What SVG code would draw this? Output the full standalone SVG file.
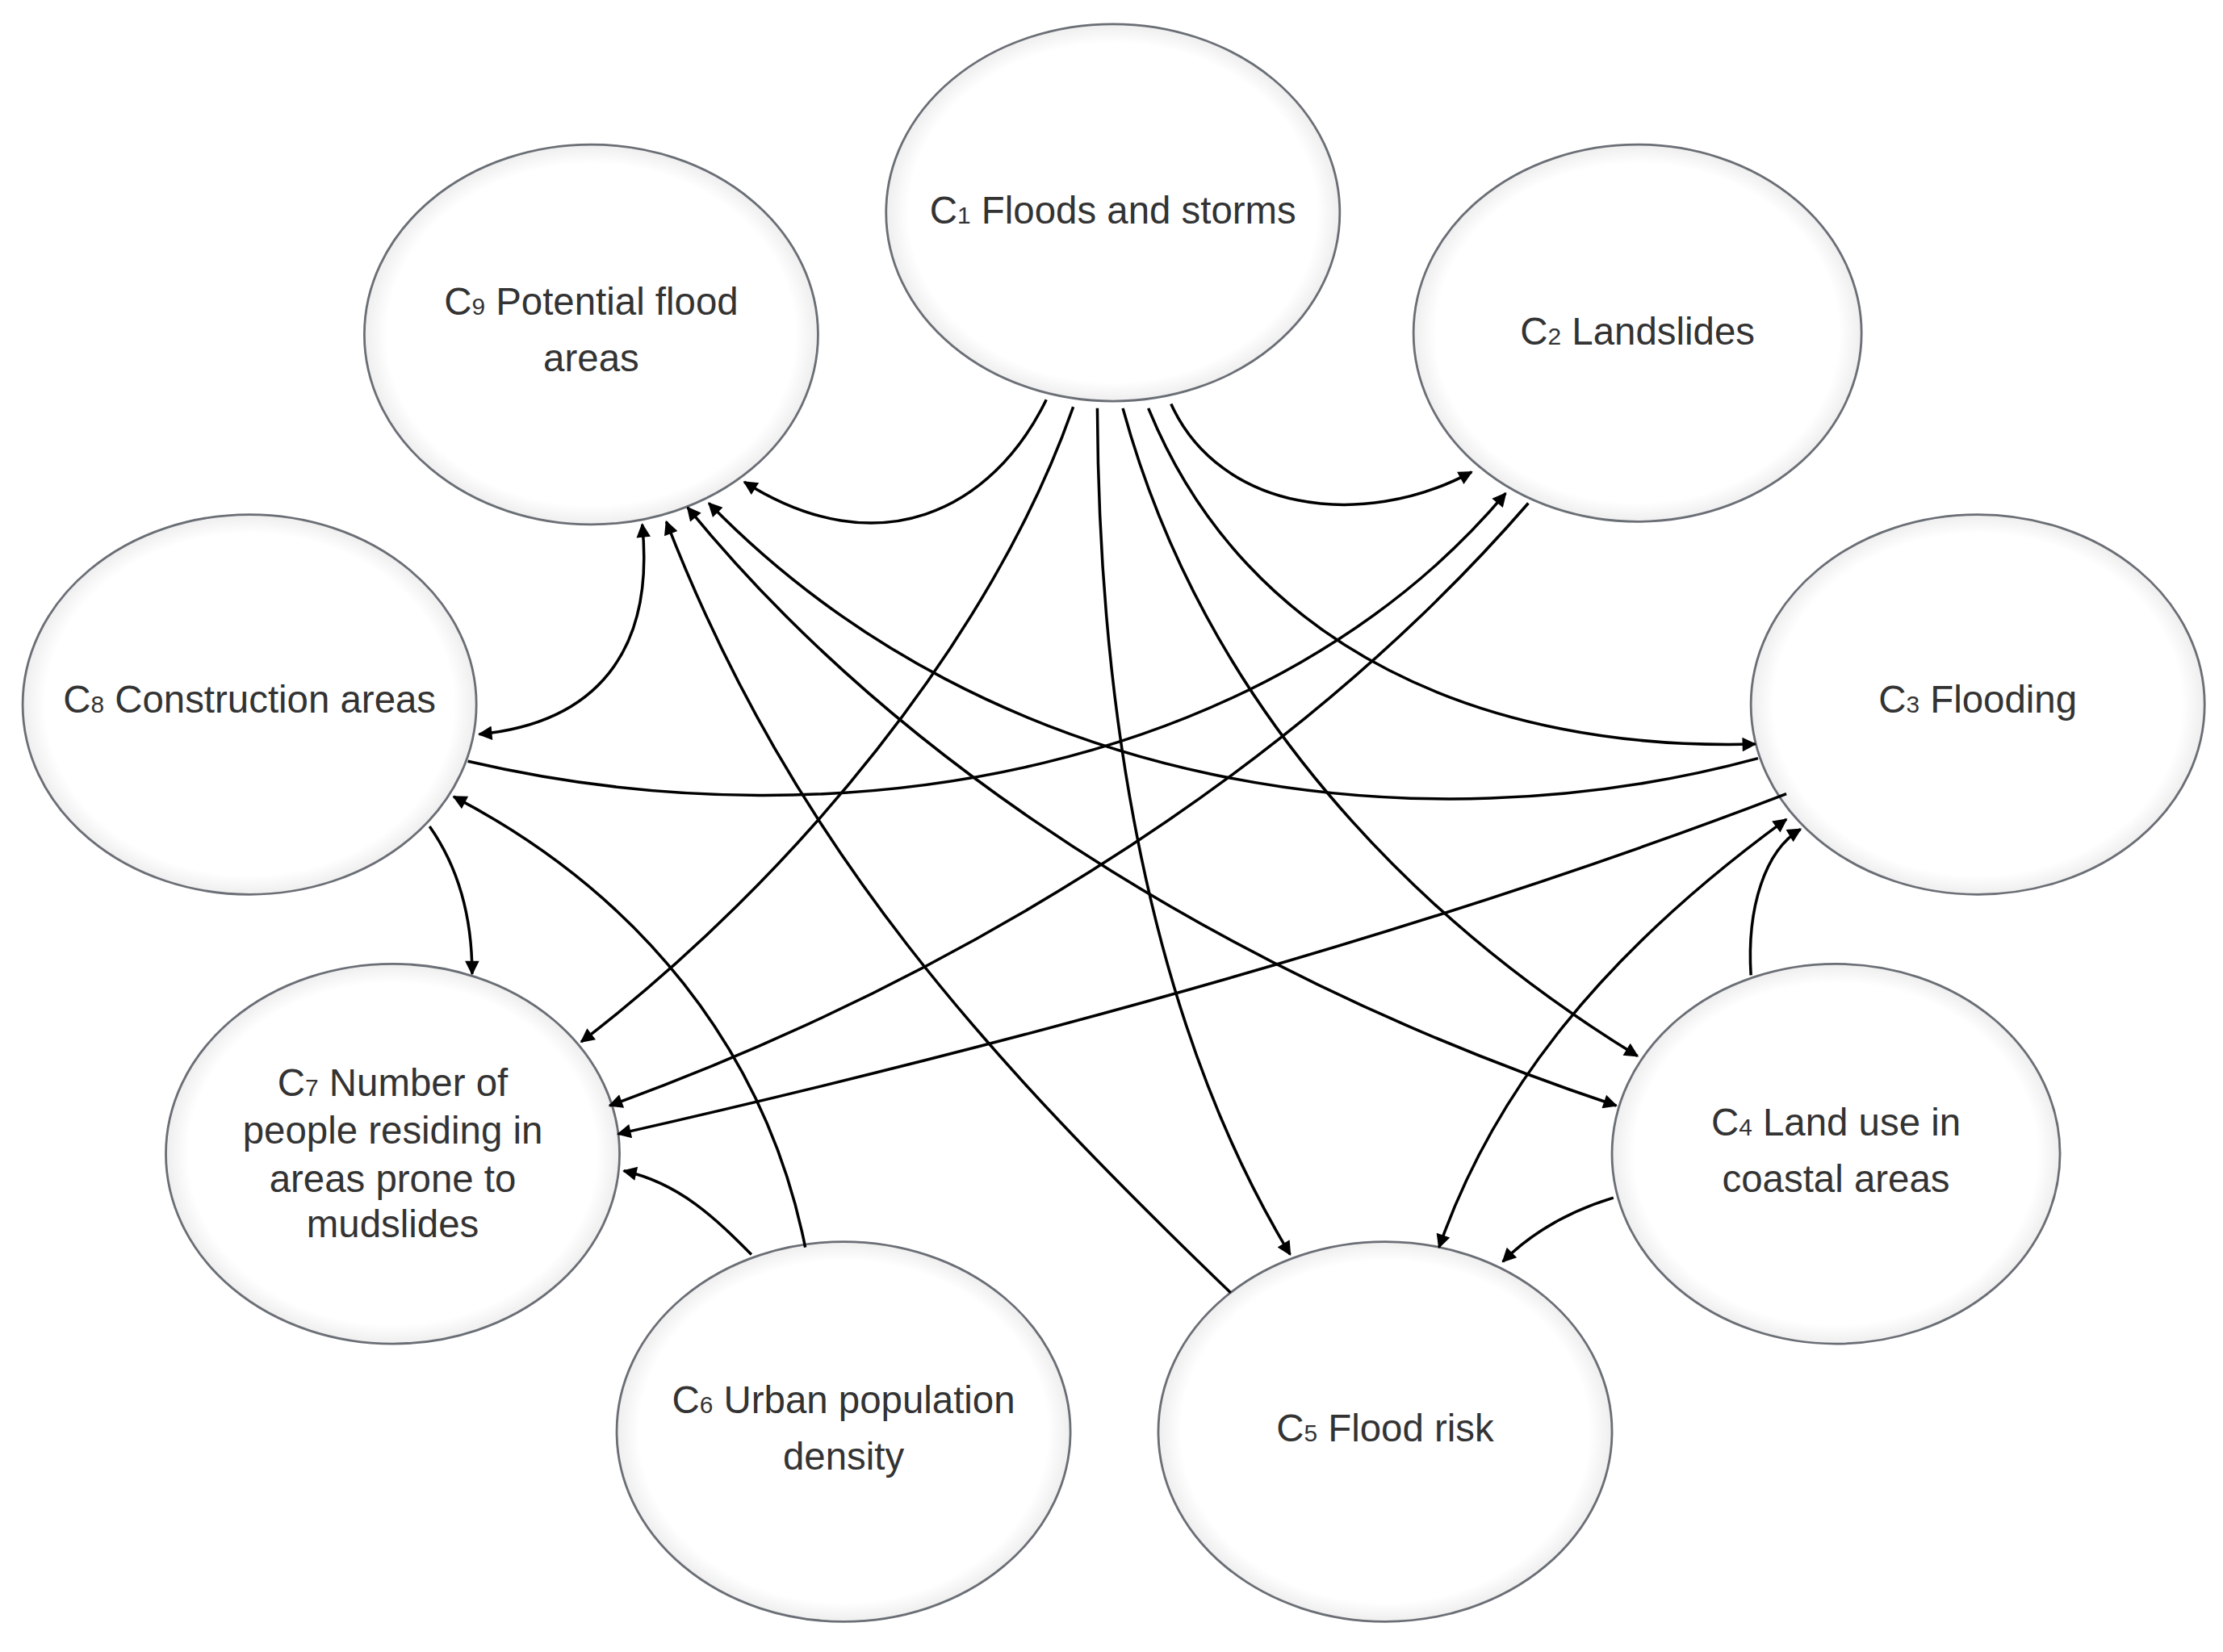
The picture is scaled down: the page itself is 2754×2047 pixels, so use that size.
<svg xmlns="http://www.w3.org/2000/svg" width="2754" height="2047" viewBox="0 0 2754 2047">
<defs>
<marker id="a" viewBox="0 0 10 10" refX="9" refY="5" markerWidth="12" markerHeight="10" orient="auto-start-reverse" markerUnits="userSpaceOnUse"><path d="M0,0 L10,5 L0,10 z" fill="#000"/></marker>
<radialGradient id="g" cx="0.5" cy="0.5" r="0.5"><stop offset="0.9" stop-color="#fff"/><stop offset="1" stop-color="#eee"/></radialGradient>
<style>
.n ellipse{fill:url(#g);stroke:#6a6e75;stroke-width:1.6}
.n text{font-family:"Liberation Sans",Arial,sans-serif;font-size:27px;fill:#333;text-anchor:middle}
.e path{fill:none;stroke:#000;stroke-width:2;marker-end:url(#a)}
.e path.b{marker-start:url(#a)}
</style>
</defs>
<rect width="2754" height="2047" fill="#fff"/>
<g transform="scale(1.7564)">
<g id="C1" class="n"><ellipse cx="785" cy="150" rx="160" ry="133"/><text x="785" y="158">C<tspan font-size="17">1</tspan> Floods and storms</text></g>
<g id="C9" class="n"><ellipse cx="417" cy="236" rx="160" ry="134"/><text x="417" y="222">C<tspan font-size="17">9</tspan> Potential flood</text><text x="417" y="262">areas</text></g>
<g id="C2" class="n"><ellipse cx="1155" cy="235" rx="158" ry="133"/><text x="1155" y="243">C<tspan font-size="17">2</tspan> Landslides</text></g>
<g id="C8" class="n"><ellipse cx="176" cy="497" rx="160" ry="134"/><text x="176" y="503">C<tspan font-size="17">8</tspan> Construction areas</text></g>
<g id="C3" class="n"><ellipse cx="1395" cy="497" rx="160" ry="134"/><text x="1395" y="503">C<tspan font-size="17">3</tspan> Flooding</text></g>
<g id="C7" class="n"><ellipse cx="277" cy="814" rx="160" ry="134"/><text x="277" y="773">C<tspan font-size="17">7</tspan> Number of</text><text x="277" y="807">people residing in</text><text x="277" y="841">areas prone to</text><text x="277" y="873">mudslides</text></g>
<g id="C4" class="n"><ellipse cx="1295" cy="814" rx="158" ry="134"/><text x="1295" y="801">C<tspan font-size="17">4</tspan> Land use in</text><text x="1295" y="841">coastal areas</text></g>
<g id="C6" class="n"><ellipse cx="595" cy="1010" rx="160" ry="134"/><text x="595" y="997">C<tspan font-size="17">6</tspan> Urban population</text><text x="595" y="1037">density</text></g>
<g id="C5" class="n"><ellipse cx="977" cy="1010" rx="160" ry="134"/><text x="977" y="1017">C<tspan font-size="17">5</tspan> Flood risk</text></g>
<g id="edges" class="e">
<path d="M738,282 C700,360 620,400 525,340"/>
<path d="M826,285 C860,360 960,375 1038,333"/>
<path d="M757,287 C700,450 560,620 410,735"/>
<path d="M774,288 C775,500 810,720 910,885"/>
<path d="M792,288 C850,500 1000,650 1155,745"/>
<path d="M810,288 C880,460 1050,530 1238,525"/>
<path d="M1078,355 C900,560 650,700 430,780"/>
<path d="M1260,560 C1000,660 700,740 436,800"/>
<path d="M330,537 C600,600 900,540 1062,348"/>
<path d="M1240,535 C1000,600 700,560 500,355"/>
<path class="b" d="M338,518 C420,510 462,460 453,370"/>
<path d="M303,583 C322,610 333,645 333,687"/>
<path d="M568,880 C540,740 450,630 320,562"/>
<path d="M530,885 C505,860 480,835 440,826"/>
<path d="M868,912 C700,750 560,600 470,368"/>
<path class="b" d="M485,358 C650,560 900,700 1140,780"/>
<path class="b" d="M1260,578 C1120,680 1050,780 1015,880"/>
<path d="M1235,688 C1232,640 1245,600 1270,585"/>
<path d="M1138,845 C1105,855 1080,870 1060,890"/>
</g>
</g>
</svg>
